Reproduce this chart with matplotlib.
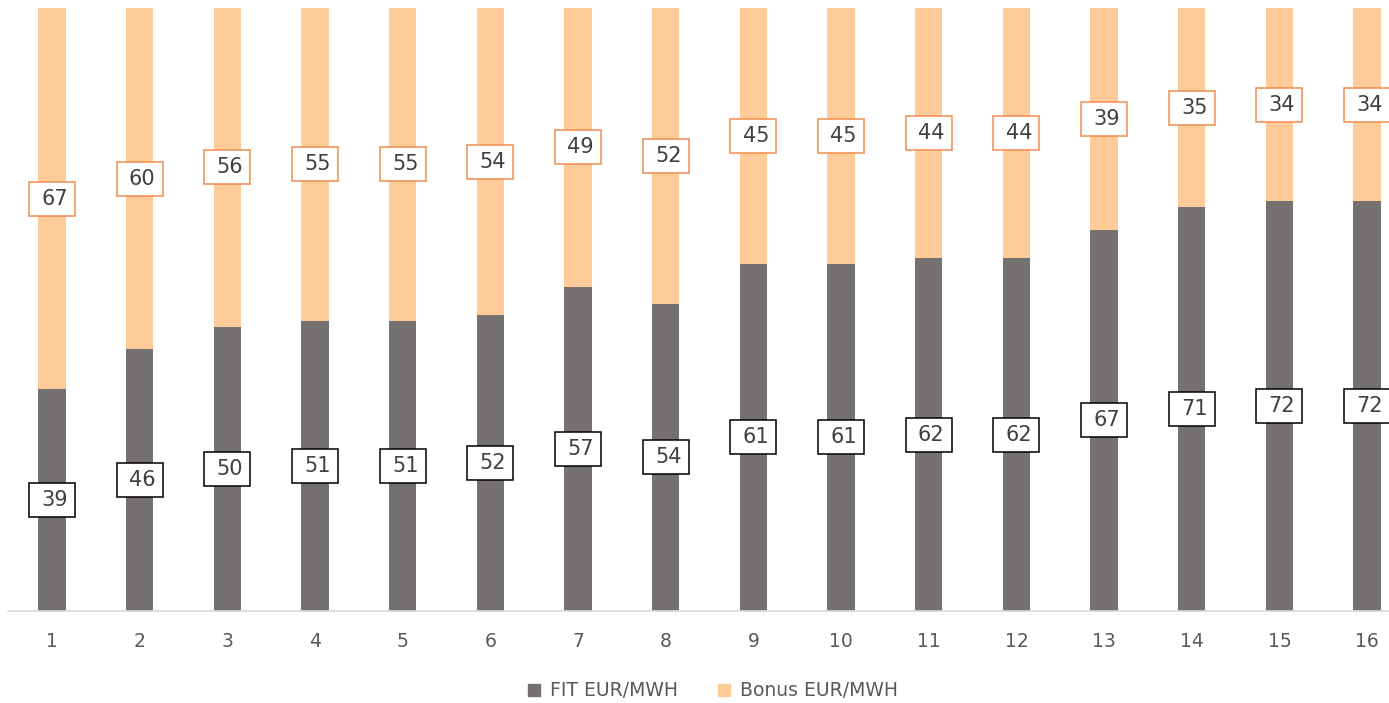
import matplotlib
matplotlib.use("Agg")
import matplotlib.pyplot as plt
from matplotlib.patches import Patch, Rectangle
from matplotlib.transforms import ScaledTranslation

categories = [str(i) for i in range(1, 17)]
fit = [39, 46, 50, 51, 51, 52, 57, 54, 61, 61, 62, 62, 67, 71, 72, 72]
bonus = [67, 60, 56, 55, 55, 54, 49, 52, 45, 45, 44, 44, 39, 35, 34, 34]

FIT_COLOR = "#767171"
BONUS_COLOR = "#FFCC99"
TEXT_COLOR = "#404040"
BONUS_EDGE = "#F08C4E"

plt.rcParams['font.family'] = ['DejaVu Sans']

fig = plt.figure(figsize=(13.89, 7.03), dpi=100)
ax = fig.add_axes([8.2 / 1389, 92 / 703, 16 * 87.67 / 1389, 603 / 703])

x = list(range(len(categories)))
w = 0.31
ax.bar(x, fit, width=w, color=FIT_COLOR, label="FIT EUR/MWH", zorder=2)
ax.bar(x, bonus, width=w, bottom=fit, color=BONUS_COLOR, label="Bonus EUR/MWH", zorder=2)

BW, BH = 0.46, 0.34  # box size in inches


def boxed_label(xc, yc, txt, edge):
    tr = fig.dpi_scale_trans + ScaledTranslation(xc, yc, ax.transData)
    ax.add_patch(Rectangle((-BW / 2, -BH / 2), BW, BH, transform=tr, fc="white",
                           ec=edge, lw=1.1, zorder=3, clip_on=False))
    ax.text(0.025, 0.0, txt, transform=tr, ha="center", va="center", fontsize=15,
            color=TEXT_COLOR, zorder=4)


for xi, f, b in zip(x, fit, bonus):
    boxed_label(xi, f / 2, str(f), "black")
    boxed_label(xi, f + b / 2, str(b), BONUS_EDGE)

ax.set_xlim(-0.5, len(categories) - 0.5)
ax.set_ylim(0, 106)
ax.set_xticks(x)
ax.set_xticklabels(categories, fontsize=13.5, color="#595959")
ax.tick_params(axis="x", length=0, pad=15)
ax.set_yticks([])
for s in ["top", "right", "left"]:
    ax.spines[s].set_visible(False)
ax.spines["bottom"].set_color("#D9D9D9")
ax.spines["bottom"].set_linewidth(1.2)

handles = [Patch(color=FIT_COLOR, label="FIT EUR/MWH"), Patch(color=BONUS_COLOR, label="Bonus EUR/MWH")]
fig.legend(handles=handles, loc="center", bbox_to_anchor=(713 / 1389, 1 - 691 / 703), ncol=2,
           frameon=False, fontsize=13.5, handlelength=0.65, handleheight=0.65, handletextpad=0.55,
           columnspacing=2.1, labelcolor="#595959")

fig.savefig("out.png", dpi=100)
